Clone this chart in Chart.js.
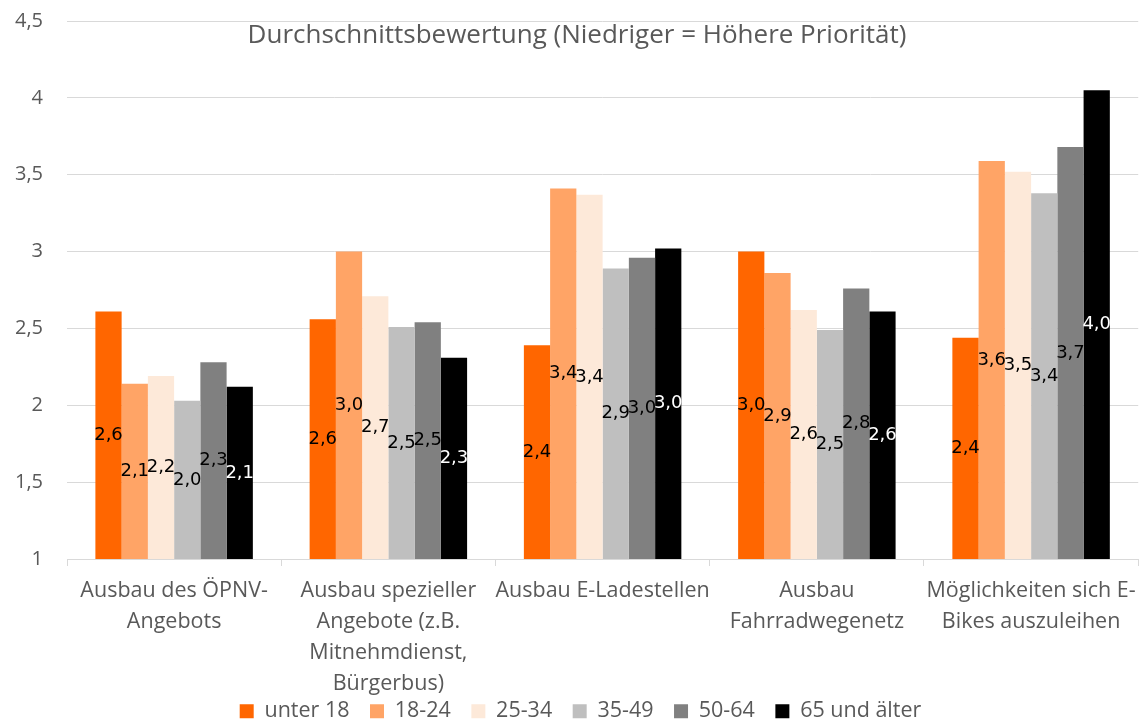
<!DOCTYPE html>
<html>
<head>
<meta charset="utf-8">
<script src="https://cdn.jsdelivr.net/npm/chart.js@4.4.1/dist/chart.umd.min.js"></script>
<style>
  html, body { margin: 0; padding: 0; background: #ffffff; }
  #wrap { width: 1146px; height: 722px; position: relative; }
</style>
</head>
<body>
<div id="wrap"><canvas id="c" width="1146" height="722"></canvas></div>
<script>
const titleText = 'Durchschnittsbewertung (Niedriger = Höhere Priorität)';
const categories = [
  ['Ausbau des ÖPNV-', 'Angebots'],
  ['Ausbau spezieller', 'Angebote (z.B.', 'Mitnehmdienst,', 'Bürgerbus)'],
  ['Ausbau E-Ladestellen'],
  ['Ausbau', 'Fahrradwegenetz'],
  ['Möglichkeiten sich E-', 'Bikes auszuleihen']
];
const seriesNames = ['unter 18', '18-24', '25-34', '35-49', '50-64', '65 und älter'];
const unter18   = [2.61, 2.56, 2.39, 3.00, 2.44];
const age18_24  = [2.14, 3.00, 3.41, 2.86, 3.59];
const age25_34  = [2.19, 2.71, 3.37, 2.62, 3.52];
const age35_49  = [2.03, 2.51, 2.89, 2.49, 3.38];
const age50_64  = [2.28, 2.54, 2.96, 2.76, 3.68];
const age65plus = [2.12, 2.31, 3.02, 2.61, 4.05];
const yTicks = [1, 1.5, 2, 2.5, 3, 3.5, 4, 4.5];

const seriesValues = [unter18, age18_24, age25_34, age35_49, age50_64, age65plus];
const seriesColors = ['#FF6600', '#FFA466', '#FDE9D9', '#BFBFBF', '#808080', '#000000'];
const labelColors  = ['#000000', '#000000', '#000000', '#000000', '#000000', '#FFFFFF'];

const textGray = '#595959';
const uiFont = "'Open Sans', 'Noto Sans', sans-serif";

const titlePlugin = {
  id: 'overlayTitle',
  afterLayout(chart) {
    if (chart.legend) {
      chart.legend.left += 9;
      chart.legend.right += 9;
    }
  },
  afterDraw(chart) {
    const ctx = chart.ctx;
    ctx.save();
    ctx.font = "26px " + uiFont;
    ctx.fillStyle = textGray;
    ctx.textAlign = 'center';
    ctx.textBaseline = 'alphabetic';
    ctx.fillText(titleText, 577, 43);
    ctx.restore();
  }
};

const valueLabelPlugin = {
  id: 'valueLabels',
  afterDatasetsDraw(chart) {
    const ctx = chart.ctx;
    const bottom = chart.chartArea.bottom;
    ctx.save();
    ctx.font = "18px 'DejaVu Sans', sans-serif";
    ctx.textAlign = 'center';
    ctx.textBaseline = 'middle';
    chart.data.datasets.forEach((ds, i) => {
      const meta = chart.getDatasetMeta(i);
      ctx.fillStyle = labelColors[i];
      meta.data.forEach((el, j) => {
        const v = ds.data[j];
        const y = (el.y + Math.min(el.base, bottom)) / 2;
        ctx.fillText(v.toFixed(1).replace('.', ','), el.x, y);
      });
    });
    ctx.restore();
  }
};

new Chart(document.getElementById('c'), {
  type: 'bar',
  data: {
    labels: categories,
    datasets: seriesNames.map((name, i) => ({
      label: name,
      data: seriesValues[i],
      backgroundColor: seriesColors[i],
      borderWidth: 0,
      categoryPercentage: 0.735,
      barPercentage: 1.0
    }))
  },
  options: {
    responsive: false,
    animation: false,
    devicePixelRatio: 1,
    layout: { padding: { top: 21, right: 3, left: 0, bottom: -10 } },
    plugins: {
      title: { display: false },
      tooltip: { enabled: false },
      legend: {
        position: 'bottom',
        labels: {
          boxWidth: 14,
          boxHeight: 14,
          padding: 20.5,
          color: textGray,
          font: { family: uiFont, size: 21.5 }
        }
      }
    },
    scales: {
      x: {
        grid: {
          display: true,
          offset: true,
          drawOnChartArea: false,
          drawTicks: true,
          tickLength: 7,
          color: '#D9D9D9'
        },
        border: { display: true, color: '#D9D9D9' },
        ticks: {
          color: textGray,
          padding: 10,
          maxRotation: 0,
          autoSkip: false,
          font: { family: uiFont, size: 21.5, lineHeight: 1.43 }
        },
        afterFit(scale) {
          scale.height = 121;
          scale._computeLabelArea = () => undefined;
        }
      },
      y: {
        min: 1,
        max: 4.5,
        afterBuildTicks(scale) { scale.ticks = yTicks.map(v => ({ value: v })); },
        grid: { color: '#D9D9D9', drawTicks: false },
        border: { display: false },
        ticks: {
          color: textGray,
          padding: 24,
          font: { family: uiFont, size: 20 },
          callback: (v) => String(v).replace('.', ',')
        },
        afterFit(scale) {
          scale.width = 67;
          scale.paddingTop = 0;
          scale.paddingBottom = 0;
        }
      }
    }
  },
  plugins: [titlePlugin, valueLabelPlugin]
});
</script>
</body>
</html>
